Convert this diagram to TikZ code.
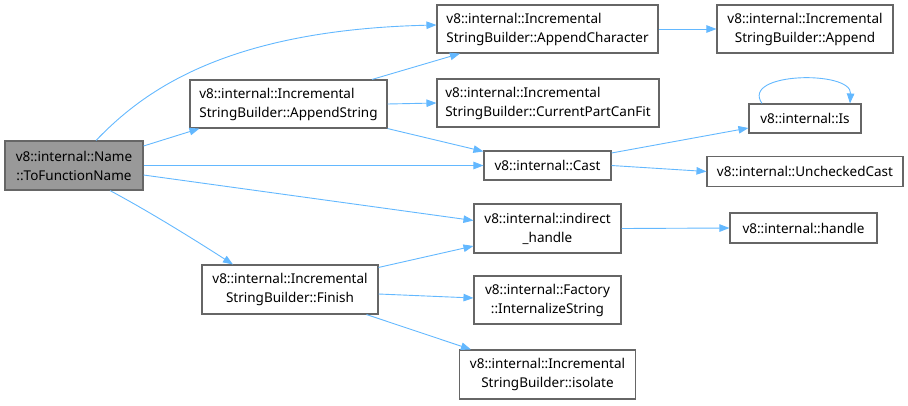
\documentclass[tikz,border=0pt]{standalone}
\usepackage{fontspec}
\setmainfont{Noto Sans}
\usetikzlibrary{arrows.meta,calc}
\definecolor{boxline}{RGB}{102,102,102}
\definecolor{rootfill}{RGB}{153,153,153}
\definecolor{callblue}{RGB}{99,184,255}

\begin{document}
\begin{tikzpicture}[x=1pt,y=-1pt,>={Triangle[length=10pt,width=7.5pt]},
  fn/.style={draw=boxline,line width=1.1pt,fill=white,inner sep=0pt,
    align=center,font=\fontsize{13.5}{19}\selectfont},
  call/.style={draw=callblue,line width=0.9pt,->}]
  % Viewport 908x405 px
  \useasboundingbox (0,0) rectangle (908,405);

  % --- Caller ---
  \node[fn,fill=rootfill,minimum width=138pt,minimum height=49pt] (root) at (74,165.5)
    {v8::internal::Name\\::ToFunctionName};

  % --- Direct callees ---
  \node[fn,align=left,minimum width=197pt,minimum height=48pt] (appstr) at (288.5,104)
    {v8::internal::Incremental\\StringBuilder::AppendString};
  \node[fn,minimum width=176pt,minimum height=49pt] (finish) at (290,289.5)
    {v8::internal::Incremental\\StringBuilder::Finish};

  % --- Second column ---
  \node[fn,align=left,minimum width=221pt,minimum height=48pt] (appchar) at (547.5,29)
    {v8::internal::Incremental\\StringBuilder::AppendCharacter};
  \node[fn,align=left,minimum width=222pt,minimum height=48pt] (curfit) at (548,103)
    {v8::internal::Incremental\\StringBuilder::CurrentPartCanFit};
  \node[fn,minimum width=127pt,minimum height=29pt] (cast) at (547.5,165.5)
    {v8::internal::Cast};
  \node[fn,minimum width=147pt,minimum height=49pt] (indh) at (547.5,228.5)
    {v8::internal::indirect\\\_handle};
  \node[fn,minimum width=147pt,minimum height=48pt] (factory) at (547.5,300)
    {v8::internal::Factory\\::InternalizeString};
  \node[fn,minimum width=176pt,minimum height=49pt] (isolate) at (547.5,374.5)
    {v8::internal::Incremental\\StringBuilder::isolate};

  % --- Third column ---
  \node[fn,minimum width=176pt,minimum height=48pt] (append) at (805,29)
    {v8::internal::Incremental\\StringBuilder::Append};
  \node[fn,minimum width=112pt,minimum height=29pt] (is) at (805,118.5)
    {v8::internal::Is};
  \node[fn,minimum width=196pt,minimum height=30pt] (unchk) at (805,171.5)
    {v8::internal::UncheckedCast};
  \node[fn,minimum width=147pt,minimum height=30pt] (handle) at (803.5,228)
    {v8::internal::handle};

  % --- Calls from ToFunctionName ---
  \draw[call] ($(root.north)+(22,0)$) .. controls (140,95) and (220,30) .. ($(appchar.west)+(0,-4)$);
  \draw[call] ($(root.east)+(0,-19.5)$) -- ($(appstr.south west)+(10,0)$);
  \draw[call] (root.east) -- (cast.west);
  \draw[call] ($(root.east)+(0,9.5)$) -- ($(indh.west)+(0,-8)$);
  \draw[call] ($(root.south)+(36,0)$) .. controls (150,212) and (195,240) .. ($(finish.north)+(-57,0)$);

  % --- Calls from AppendString ---
  \draw[call] ($(appstr.north)+(83.5,0)$) -- ($(appchar.south)+(-87.5,0)$);
  \draw[call] (appstr.east) -- (curfit.west);
  \draw[call] (appstr.south east) -- ($(cast.north west)+(0,1)$);

  % --- Calls from Cast / Is ---
  \draw[call] ($(cast.east)+(0,-12.5)$) -- ($(is.west)+(0,9.5)$);
  \draw[call] (cast.east) -- (unchk.west);
  \draw[call] ($(is.north)+(-43,0)$) .. controls (740,72) and (852,70) .. ($(is.north)+(45,0)$);

  % --- Remaining calls ---
  \draw[call] (appchar.east) -- (append.west);
  \draw[call] (indh.east) -- (handle.west);
  \draw[call] ($(finish.north east)+(0,3)$) -- ($(indh.west)+(0,17.5)$);
  \draw[call] ($(finish.east)+(0,4.5)$) -- ($(factory.west)+(0,-2)$);
  \draw[call] ($(finish.south east)+(-12,0)$) -- ($(isolate.north west)+(12,0)$);

\end{tikzpicture}
\end{document}
